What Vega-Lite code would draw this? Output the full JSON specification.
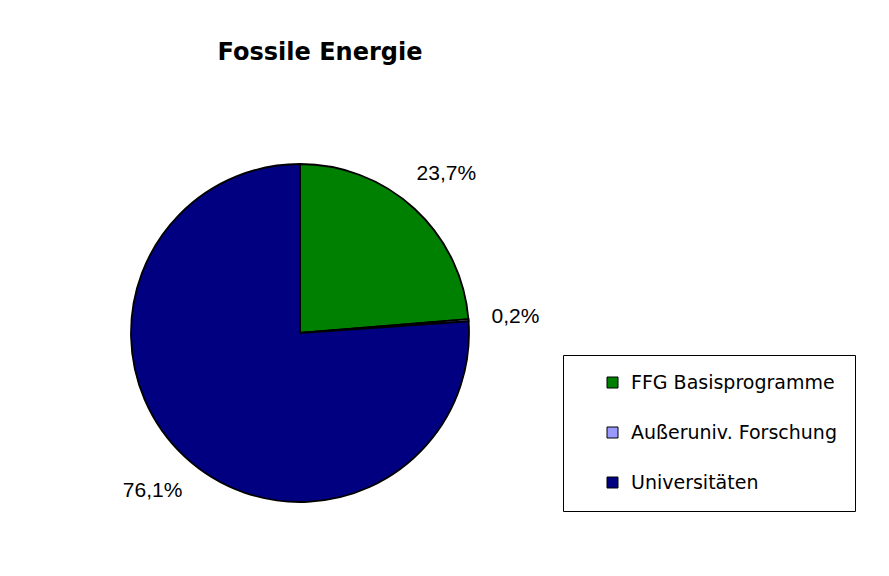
{
  "$schema": "https://vega.github.io/schema/vega-lite/v6.json",
  "width": 340,
  "height": 340,
  "autosize": {"type": "none"},
  "padding": {"left": 130, "top": 163, "right": 419, "bottom": 73},
  "background": "white",
  "title": {
    "text": "Fossile Energie",
    "font": "DejaVu Sans",
    "fontSize": 24,
    "fontWeight": "bold",
    "color": "black",
    "anchor": "middle",
    "frame": "group",
    "dx": 20,
    "offset": 95
  },
  "data": {
    "values": [
      {"Bereich": "FFG Basisprogramme", "Anteil": 0.237, "Nr": 1},
      {"Bereich": "Außeruniv. Forschung", "Anteil": 0.002, "Nr": 2},
      {"Bereich": "Universitäten", "Anteil": 0.761, "Nr": 3}
    ]
  },
  "encoding": {
    "theta": {"field": "Anteil", "type": "quantitative", "stack": true},
    "order": {"field": "Nr", "type": "quantitative"}
  },
  "layer": [
    {
      "mark": {"type": "arc", "outerRadius": 169, "stroke": "black", "strokeWidth": 1.8},
      "encoding": {
        "color": {
          "field": "Bereich",
          "type": "nominal",
          "scale": {
            "domain": ["FFG Basisprogramme", "Außeruniv. Forschung", "Universitäten"],
            "range": ["#008000", "#9999ff", "#000080"]
          },
          "legend": {
            "orient": "none",
            "legendX": 433,
            "legendY": 192,
            "title": null,
            "symbolType": "square",
            "symbolSize": 121,
            "symbolStrokeColor": "black",
            "symbolStrokeWidth": 1,
            "labelFont": "DejaVu Sans",
            "labelFontSize": 19,
            "labelColor": "black",
            "padding": 18,
            "rowPadding": 30,
            "strokeColor": "black",
            "fillColor": "white",
            "symbolOffset": 22,
            "labelOffset": 9,
            "labelLimit": 400
          }
        }
      }
    },
    {
      "mark": {"type": "text", "radius": 216, "font": "Liberation Sans", "fontSize": 21, "color": "black"},
      "encoding": {
        "detail": {"field": "Bereich", "type": "nominal"},
        "text": {"field": "Anteil", "type": "quantitative", "format": ".1%"}
      }
    }
  ],
  "config": {
    "view": {"stroke": null},
    "locale": {
      "number": {"decimal": ",", "thousands": ".", "grouping": [3], "currency": ["", " €"]}
    }
  }
}
